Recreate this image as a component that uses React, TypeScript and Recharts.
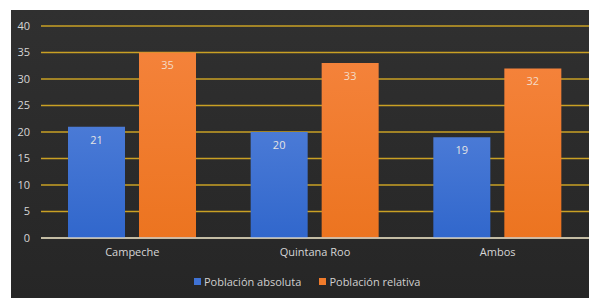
import React from "react";
import { BarChart, Bar, XAxis, YAxis, CartesianGrid, Legend, LabelList } from "recharts";

const categories = ["Campeche", "Quintana Roo", "Ambos"];
const absoluta = [21, 20, 19];
const relativa = [35, 33, 32];
const yTicks = [0, 5, 10, 15, 20, 25, 30, 35, 40];
const seriesNames = ["Población absoluta", "Población relativa"];

const data = categories.map((c, i) => ({ name: c, absoluta: absoluta[i], relativa: relativa[i] }));

const FONT = "'Open Sans', 'DejaVu Sans', sans-serif";

const LegendContent = () => (
  <div style={{ display: "flex", alignItems: "center", fontFamily: FONT, fontSize: 11, color: "#d0d0d0", whiteSpace: "nowrap" }}>
    <span style={{ display: "inline-block", width: 7, height: 7, background: "#3f72d4", marginRight: 3 }} />
    <span style={{ marginRight: 18 }}>{seriesNames[0]}</span>
    <span style={{ display: "inline-block", width: 7, height: 7, background: "#f07b2b", marginRight: 3 }} />
    <span>{seriesNames[1]}</span>
  </div>
);

export default function App() {
  return (
    <div style={{ position: "absolute", left: 0, top: 0, width: 589, height: 298, background: "#ffffff", overflow: "hidden" }}>
      <div
        style={{
          position: "absolute",
          left: 11,
          top: 10,
          width: 578,
          height: 288,
          background: "linear-gradient(180deg, #303030 0%, #2a2a2a 60%, #262626 100%)",
        }}
      >
        <BarChart
          width={578}
          height={288}
          data={data}
          margin={{ top: 16, right: 0, left: 0, bottom: 16 }}
          barGap={14}
          barSize={57}
        >
          <defs>
            <linearGradient id="gBlue" x1="0" y1="0" x2="0" y2="1">
              <stop offset="0%" stopColor="#4a7ad6" />
              <stop offset="100%" stopColor="#3167cc" />
            </linearGradient>
            <linearGradient id="gOrange" x1="0" y1="0" x2="0" y2="1">
              <stop offset="0%" stopColor="#f4823a" />
              <stop offset="100%" stopColor="#ec7420" />
            </linearGradient>
          </defs>
          <CartesianGrid vertical={false} stroke="#c9a024" strokeWidth={1.3} />
          <XAxis
            dataKey="name"
            tickLine={false}
            axisLine={{ stroke: "#cfcfcf", strokeWidth: 1.3 }}
            tick={{ fill: "#d6d6d6", fontSize: 11, fontFamily: FONT }}
            tickMargin={4}
            height={30}
          />
          <YAxis
            domain={[0, 40]}
            ticks={yTicks}
            width={30}
            axisLine={false}
            tickLine={false}
            tickMargin={5}
            tick={{ fill: "#d6d6d6", fontSize: 11, fontFamily: FONT }}
            interval={0}
          />
          <Legend
            content={<LegendContent />}
            wrapperStyle={{ position: "absolute", left: 183, top: 264, width: "auto", height: 14 }}
          />
          <Bar dataKey="absoluta" name={seriesNames[0]} fill="url(#gBlue)" isAnimationActive={false}>
            <LabelList dataKey="absoluta" position="insideTop" offset={9} fill="#e4e4e4" fontSize={11} fontFamily={FONT} />
          </Bar>
          <Bar dataKey="relativa" name={seriesNames[1]} fill="url(#gOrange)" isAnimationActive={false}>
            <LabelList dataKey="relativa" position="insideTop" offset={9} fill="#f3dcc8" fontSize={11} fontFamily={FONT} />
          </Bar>
        </BarChart>
      </div>
    </div>
  );
}
